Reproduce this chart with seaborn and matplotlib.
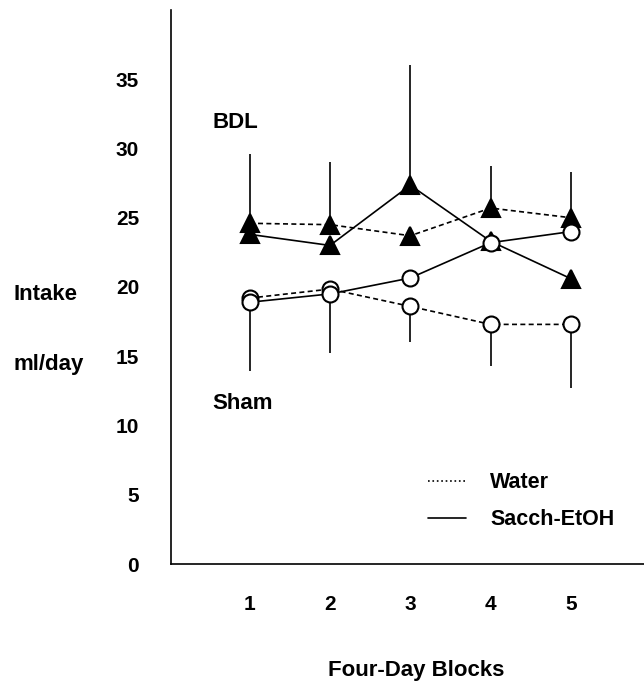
import numpy as np
import pandas as pd
import seaborn as sns
import matplotlib.pyplot as plt
from matplotlib.lines import Line2D

# values (ml/day)
blocks = [1, 2, 3, 4, 5]
bdl_water = [24.6, 24.5, 23.7, 25.7, 25.0]
bdl_sacch = [23.8, 23.0, 27.35, 23.3, 20.6]
sham_water = [19.2, 19.85, 18.6, 17.3, 17.3]
sham_sacch = [18.9, 19.5, 20.65, 23.2, 24.0]
# one-sided SEM bars (BDL up, Sham down)
bdl_err_from = [24.6, 24.5, 27.35, 25.7, 25.0]
bdl_err_top = [29.6, 29.0, 36.0, 28.75, 28.3]
sham_err_from = [19.2, 19.85, 18.6, 17.3, 17.3]
sham_err_bottom = [13.9, 15.2, 16.0, 14.3, 12.7]
ytick_vals = [0, 5, 10, 15, 20, 25, 30, 35]

sns.set_style("white")
plt.rcParams["font.family"] = ["Liberation Sans", "DejaVu Sans"]
plt.rcParams["font.weight"] = "bold"
plt.rcParams["text.color"] = "black"
plt.rcParams["xtick.color"] = "black"
plt.rcParams["ytick.color"] = "black"

fig = plt.figure(figsize=(6.44, 6.83), dpi=100)
ax = fig.add_axes([0.2655, 0.1742, 0.7345, 0.8112])

df = pd.DataFrame({
    "block": blocks * 4,
    "intake": bdl_water + bdl_sacch + sham_water + sham_sacch,
    "group": ["BDL"] * 10 + ["Sham"] * 10,
    "fluid": (["Water"] * 5 + ["Sacch-EtOH"] * 5) * 2,
})

ax.vlines(blocks, bdl_err_from, bdl_err_top, color="black", lw=1.2)
ax.vlines(blocks, sham_err_bottom, sham_err_from, color="black", lw=1.2)

styles = {
    ("BDL", "Water"): dict(marker="^", ls=(0, (3, 2)), mfc="black", ms=13),
    ("BDL", "Sacch-EtOH"): dict(marker="^", ls="-", mfc="black", ms=13),
    ("Sham", "Water"): dict(marker="o", ls=(0, (3, 2)), mfc="white", ms=11.5),
    ("Sham", "Sacch-EtOH"): dict(marker="o", ls="-", mfc="white", ms=11.5),
}
for (grp, fl), st in styles.items():
    sub = df[(df.group == grp) & (df.fluid == fl)]
    sns.lineplot(data=sub, x="block", y="intake", ax=ax, color="black",
                 marker=st["marker"], linestyle=st["ls"], lw=1.2,
                 markersize=st["ms"], markerfacecolor=st["mfc"],
                 markeredgecolor="black", markeredgewidth=1.5)

ax.set_xlim(0.02, 5.91)
ax.set_ylim(0, 40)
ax.set_xticks(blocks)
ax.set_yticks(ytick_vals)
ax.tick_params(axis="x", length=0, pad=22, labelsize=15)
ax.tick_params(axis="y", direction="in", length=4, width=1.2, pad=23, labelsize=15)
for lab in ax.get_xticklabels() + ax.get_yticklabels():
    lab.set_fontweight("bold")
ax.set_xlabel("")
ax.set_ylabel("")
for s in ["top", "right"]:
    ax.spines[s].set_visible(False)
for s in ["left", "bottom"]:
    ax.spines[s].set_color("black")
    ax.spines[s].set_linewidth(1.2)

ax.text(0.54, 31.9, "BDL", fontsize=16, fontweight="bold", va="center", ha="left")
ax.text(0.54, 11.6, "Sham", fontsize=16, fontweight="bold", va="center", ha="left")
fig.text(0.021, 0.569, "Intake", fontsize=16, fontweight="bold", va="center")
fig.text(0.021, 0.466, "ml/day", fontsize=16, fontweight="bold", va="center")
fig.text(0.646, 0.019, "Four-Day Blocks", fontsize=16, fontweight="bold",
         ha="center", va="center")

handles = [Line2D([], [], color="black", ls=":", lw=1.2),
           Line2D([], [], color="black", ls="-", lw=1.2)]
ax.legend(handles, ["Water", "Sacch-EtOH"], loc="upper left",
          bbox_to_anchor=(0.52, 0.185), frameon=False, borderpad=0,
          handlelength=1.8, handletextpad=1.1, labelspacing=0.75,
          prop={"size": 15.5, "weight": "bold"})

fig.savefig("out.png", dpi=100)
